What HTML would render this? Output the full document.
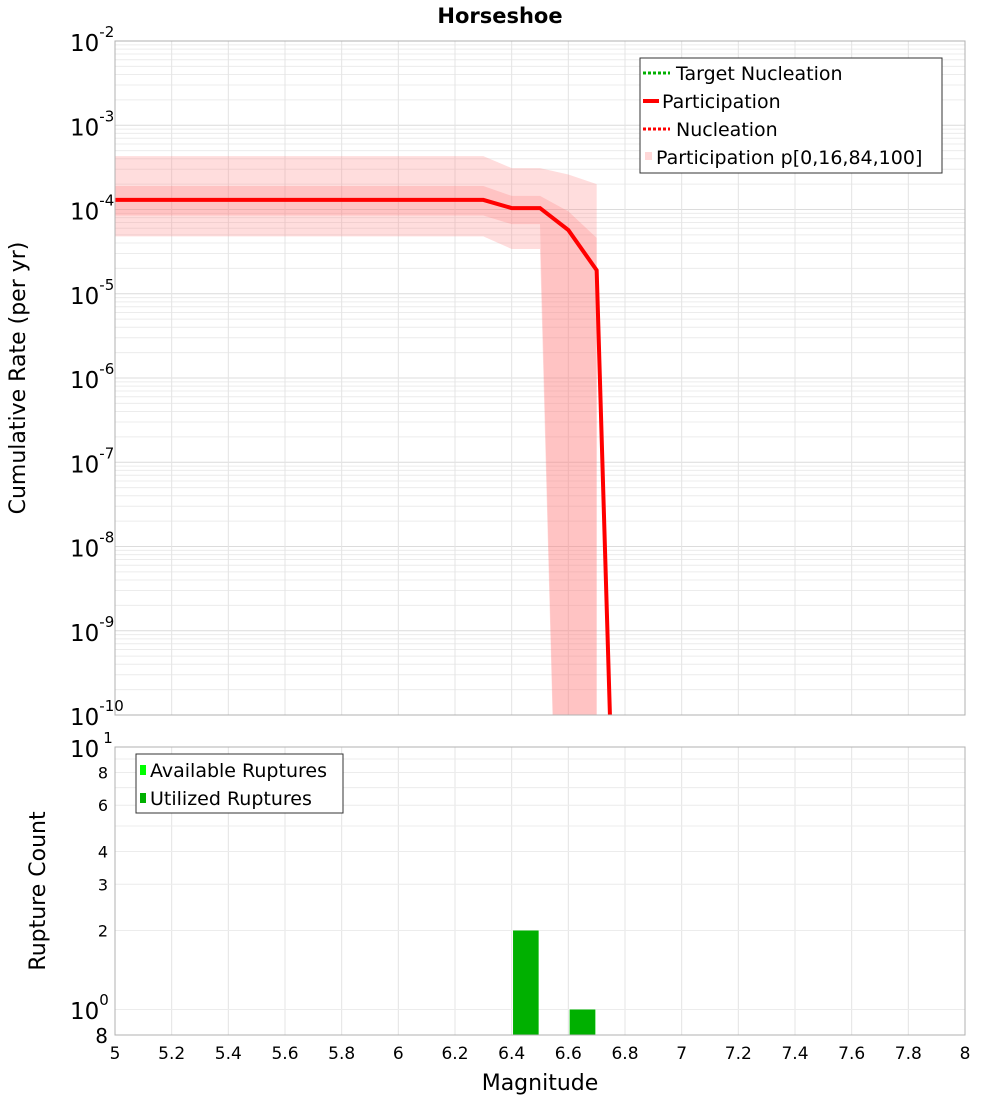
<!DOCTYPE html>
<html><head><meta charset="utf-8"><style>
body{margin:0;background:#fff}
svg{font-family:"DejaVu Sans","Liberation Sans",sans-serif}
</style></head><body>
<svg id="chart" width="1000" height="1100" viewBox="0 0 1000 1100">
<text x="500" y="23" text-anchor="middle" font-size="21" font-weight="bold">Horseshoe</text>
<g id="topg"></g>
<g id="botg"></g>
</svg>
<script>
const mags = [5.0,5.1,5.2,5.3,5.4,5.5,5.6,5.7,5.8,5.9,6.0,6.1,6.2,6.3,6.4,6.5,6.6,6.7,6.8];
const participation = [1.3e-4,1.3e-4,1.3e-4,1.3e-4,1.3e-4,1.3e-4,1.3e-4,1.3e-4,1.3e-4,1.3e-4,1.3e-4,1.3e-4,1.3e-4,1.3e-4,1.04e-4,1.04e-4,5.7e-5,1.9e-5,1e-16];
const bandMags = [5.0,6.3,6.4,6.5,6.6,6.7];
const p100 = [4.3e-4,4.3e-4,3.1e-4,3.1e-4,2.6e-4,2.0e-4];
const p84 = [1.9e-4,1.9e-4,1.45e-4,1.45e-4,9.5e-5,4.6e-5];
const p16 = [8.5e-5,8.5e-5,6.7e-5,6.7e-5,1e-17,1e-17];
const p0 = [4.8e-5,4.8e-5,3.4e-5,3.4e-5,1e-17,1e-17];
const barMags = [6.45,6.65];
const utilized = [2,1];
const available = [2,1];
const xTicks = [5,5.2,5.4,5.6,5.8,6,6.2,6.4,6.6,6.8,7,7.2,7.4,7.6,7.8,8];

const NS="http://www.w3.org/2000/svg";
function mk(t,a,p){const e=document.createElementNS(NS,t);for(const k in a)e.setAttribute(k,a[k]);p.appendChild(e);return e;}
const L=115,R=965;
const X=m=>L+(m-5)/3*(R-L);
const T0=41,T1=715;
const YT=v=>T0+(-2-Math.log10(v))/8*(T1-T0);
const B0=747,B1=1035;
const YB=v=>B0+(1-Math.log10(v))/(1-Math.log10(0.8))*(B1-B0);
const topG=document.getElementById('topg'), botG=document.getElementById('botg');

const tg=mk('g',{},topG);


for(let d=-10;d<-2;d++)for(let k=1;k<10;k++){const y=YT(k*Math.pow(10,d));mk('line',{x1:L,x2:R,y1:y,y2:y,stroke:k==1?'#dcdcdc':'#ececec','stroke-width':1},tg);}
xTicks.forEach(m=>{mk('line',{x1:X(m),x2:X(m),y1:T0,y2:T1,stroke:'#e4e4e4'},tg);mk('line',{x1:X(m),x2:X(m),y1:B0,y2:B1,stroke:'#e4e4e4'},tg);});
const defs=mk('defs',{},topG);
const cp=mk('clipPath',{id:'ct'},defs);mk('rect',{x:L,y:T0,width:R-L,height:T1-T0},cp);
const cg=mk('g',{'clip-path':'url(#ct)'},topG);
function band(lo,hi,fill,name){let d='M'+bandMags.map((m,i)=>X(m)+','+YT(hi[i])).join('L');
for(let i=bandMags.length-1;i>=0;i--)d+='L'+X(bandMags[i])+','+YT(lo[i]);
const p=mk('path',{d:d+'Z',fill:fill},cg);

}
band(p0,p100,'rgba(255,120,120,0.25)','band-p0-p100');
band(p16,p84,'rgba(255,120,120,0.25)','band-p16-p84');
const pts=mags.map((m,i)=>X(m)+','+YT(participation[i])).join(' ');
const l1=mk('polyline',{points:pts,fill:'none',stroke:'#00b000','stroke-width':3,'stroke-dasharray':'3,2'},cg);


const l2=mk('polyline',{points:pts,fill:'none',stroke:'#ff0000','stroke-width':4},cg);


const l3=mk('polyline',{points:pts,fill:'none',stroke:'#ff0000','stroke-width':2,'stroke-dasharray':'3,2'},cg);


mk('rect',{x:L,y:T0,width:R-L,height:T1-T0,fill:'none',stroke:'#b0b0b0'},topG);
for(let d=-10;d<=-2;d++){const y=YT(Math.pow(10,d));
const t=mk('text',{x:70,y:y+10,'font-size':23},topG);t.textContent='10';


const s=mk('tspan',{dy:-14,'font-size':15},t);s.textContent=String(d);}
const yt=mk('text',{transform:'translate(25,378) rotate(-90)','text-anchor':'middle','font-size':22},topG);
yt.textContent='Cumulative Rate (per yr)';


const lg=mk('g',{},topG);


mk('rect',{x:640,y:58,width:302,height:115,fill:'#fff',stroke:'#333'},lg);
mk('line',{x1:643,x2:670,y1:73,y2:73,stroke:'#00b000','stroke-width':3,'stroke-dasharray':'3,2'},lg);
mk('line',{x1:643,x2:659,y1:101,y2:101,stroke:'#f00','stroke-width':4},lg);
mk('line',{x1:643,x2:670,y1:129,y2:129,stroke:'#f00','stroke-width':3,'stroke-dasharray':'3,2'},lg);
mk('rect',{x:645,y:152,width:7,height:8,fill:'#ffd8d8'},lg);
[['Target Nucleation',676,80],['Participation',662,108],['Nucleation',676,136],['Participation p[0,16,84,100]',656,164]].forEach(a=>{const t=mk('text',{x:a[1],y:a[2],'font-size':19},lg);t.textContent=a[0];});

const bg=mk('g',{},botG);
[1,2,3,4,5,6,7,8,9,10].forEach(v=>{const y=YB(v);mk('line',{x1:L,x2:R,y1:y,y2:y,stroke:'#ececec'},bg);});
barMags.forEach((m,i)=>{
const a=mk('rect',{x:X(m-0.045),y:YB(available[i]),width:X(m+0.045)-X(m-0.045),height:B1-YB(available[i]),fill:'#00ff00'},botG);


const b=mk('rect',{x:X(m-0.045),y:YB(utilized[i]),width:X(m+0.045)-X(m-0.045),height:B1-YB(utilized[i]),fill:'#00b000'},botG);

});
mk('rect',{x:L,y:B0,width:R-L,height:B1-B0,fill:'none',stroke:'#b0b0b0'},botG);
[[2,'2'],[3,'3'],[4,'4'],[6,'6'],[8,'8']].forEach(a=>{const t=mk('text',{x:108,y:YB(a[0])+6,'text-anchor':'end','font-size':16},botG);t.textContent=a[1];

});
let t=mk('text',{x:70,y:757,'font-size':23},botG);t.textContent='10';let s=mk('tspan',{dy:-14,'font-size':15,dx:4},t);s.textContent='1';
t=mk('text',{x:70,y:1019,'font-size':23},botG);t.textContent='10';s=mk('tspan',{dy:-14,'font-size':15},t);s.textContent='0';
t=mk('text',{x:108,y:1043,'text-anchor':'end','font-size':20},botG);t.textContent='8';
t=mk('text',{transform:'translate(45,891) rotate(-90)','text-anchor':'middle','font-size':22},botG);t.textContent='Rupture Count';


xTicks.forEach(m=>{const x=mk('text',{x:X(m),y:1059,'text-anchor':'middle','font-size':17},botG);x.textContent=String(m);

});
t=mk('text',{x:540,y:1090,'text-anchor':'middle','font-size':22},botG);t.textContent='Magnitude';


const l2g=mk('g',{},botG);


mk('rect',{x:136,y:754,width:207,height:59,fill:'#fff',stroke:'#333'},l2g);
mk('rect',{x:140,y:765,width:6,height:10,fill:'#00ff00'},l2g);
mk('rect',{x:140,y:793,width:6,height:10,fill:'#00b000'},l2g);
t=mk('text',{x:150,y:777,'font-size':19},l2g);t.textContent='Available Ruptures';
t=mk('text',{x:150,y:805,'font-size':19},l2g);t.textContent='Utilized Ruptures';
</script>
</body></html>
